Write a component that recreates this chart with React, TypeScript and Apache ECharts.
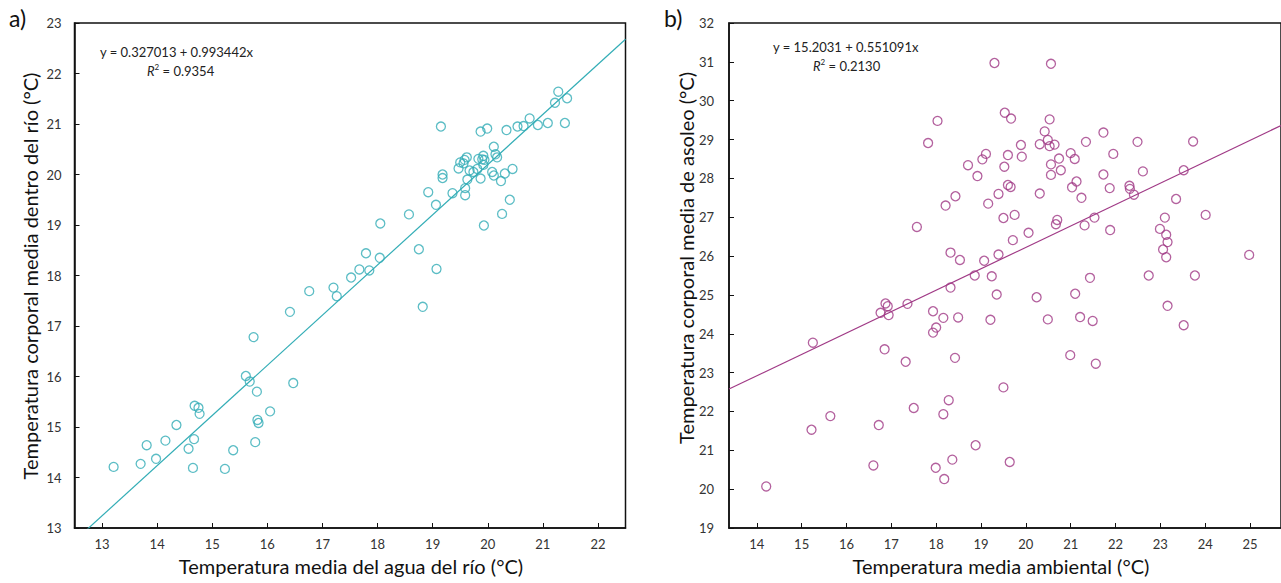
import React, { useEffect, useRef } from "react";
import * as echarts from "echarts";

// ---------- Panel a) : river water vs body temperature in river ----------
const riverX = [
  13.21, 13.7, 13.81, 13.98, 14.15, 14.35, 14.57, 14.65, 14.67, 14.68, 14.75, 14.77, 15.23, 15.38, 15.61, 15.68,
  15.81, 15.78, 15.82, 15.84, 16.05, 16.47, 15.75, 16.41, 16.76, 17.2, 17.26, 17.52, 17.67, 17.79, 17.85, 18.04,
  18.05, 18.57, 18.75, 18.82, 19.07, 18.92, 19.06, 19.15, 19.18, 19.18, 19.36, 19.47, 19.5, 19.56, 19.58, 19.62,
  19.59, 19.59, 19.63, 19.67, 19.74, 19.81, 19.83, 19.87, 19.87, 19.9, 19.92, 19.94, 19.92, 19.99, 19.93, 20.08,
  20.11, 20.11, 20.14, 20.17, 20.24, 20.26, 20.31, 20.34, 20.4, 20.45, 20.54, 20.65, 20.76, 20.91, 21.09, 21.4,
  21.22, 21.28, 21.44,
];
const riverY = [
  14.21, 14.27, 14.64, 14.37, 14.73, 15.04, 14.57, 14.19, 14.76, 15.42, 15.38, 15.26, 14.17, 14.54, 16.01, 15.9,
  15.7, 14.7, 15.14, 15.08, 15.31, 15.87, 16.78, 17.28, 17.69, 17.76, 17.59, 17.96, 18.12, 18.44, 18.1, 18.35,
  19.03, 19.21, 18.52, 17.38, 18.13, 19.65, 19.4, 20.95, 20.0, 19.93, 19.63, 20.12, 20.24, 20.22, 20.29, 20.34,
  19.73, 19.59, 19.9, 20.08, 20.05, 20.11, 20.31, 20.85, 19.92, 20.3, 20.37, 20.29, 20.19, 20.91, 18.99, 20.05,
  20.55, 19.98, 20.4, 20.34, 19.87, 19.22, 20.02, 20.88, 19.5, 20.11, 20.95, 20.96, 21.11, 20.98, 21.02, 21.02,
  21.42, 21.64, 21.51,
];
const riverIntercept = 0.327013;
const riverSlope = 0.993442;
const riverR2 = "0.9354";
const riverXTicks = [13, 14, 15, 16, 17, 18, 19, 20, 21, 22];

// ---------- Panel b) : ambient vs basking body temperature ----------
const ambX = [
  19.3, 18.03, 17.82, 19.11, 19.03, 18.71, 18.92, 19.39, 18.43, 18.21, 19.16, 17.57, 18.32, 18.53, 19.07, 19.39,
  20.56, 19.53, 19.67, 20.53, 20.42, 20.49, 20.31, 20.53, 20.64, 19.89, 19.6, 19.91, 19.52, 20.74, 21.0, 21.09,
  21.34, 21.73, 22.49, 21.95, 23.73, 20.56, 20.78, 20.56, 22.61, 23.52, 21.73, 19.6, 19.66, 20.31, 21.13, 21.03,
  21.24, 21.87, 22.31, 22.32, 22.41, 23.35, 24.01, 19.5, 19.75, 20.7, 20.67, 20.06, 19.71, 21.31, 21.53, 21.88,
  23.1, 22.99, 23.13, 23.16, 23.06, 23.13, 24.98, 18.86, 19.24, 19.35, 18.32, 19.21, 17.36, 16.87, 16.92, 16.76,
  16.94, 15.25, 17.93, 18.16, 18.49, 18.0, 17.93, 16.85, 17.32, 18.42, 17.5, 15.64, 15.22, 16.72, 18.28, 18.16,
  18.88, 16.6, 17.99, 18.36, 18.18, 14.21, 20.24, 20.49, 21.1, 21.43, 21.21, 21.49, 20.99, 21.56, 19.5, 19.64,
  22.74, 23.77, 23.16, 23.52,
];
const ambY = [
  30.97, 29.48, 28.91, 28.63, 28.49, 28.34, 28.06, 27.6, 27.54, 27.3, 27.35, 26.75, 26.09, 25.9, 25.88, 26.04,
  30.95, 29.69, 29.54, 29.52, 29.21, 28.99, 28.88, 28.83, 28.87, 28.86, 28.6, 28.56, 28.3, 28.51, 28.65, 28.5,
  28.94, 29.18, 28.94, 28.63, 28.95, 28.36, 28.21, 28.09, 28.18, 28.21, 28.1, 27.83, 27.78, 27.61, 27.92, 27.77,
  27.5, 27.75, 27.81, 27.73, 27.58, 27.47, 27.06, 26.98, 27.06, 26.93, 26.82, 26.6, 26.41, 26.79, 26.99, 26.67,
  26.99, 26.7, 26.55, 26.36, 26.17, 25.97, 26.03, 25.5, 25.48, 25.01, 25.19, 24.36, 24.77, 24.78, 24.71, 24.54,
  24.48, 23.77, 24.58, 24.41, 24.42, 24.16, 24.03, 23.6, 23.28, 23.38, 22.09, 21.88, 21.53, 21.65, 22.29, 21.93,
  21.13, 20.61, 20.55, 20.76, 20.26, 20.07, 24.94, 24.37, 25.03, 25.44, 24.43, 24.33, 23.45, 23.23, 22.62, 20.7,
  25.5, 25.5, 24.72, 24.22,
];
const ambIntercept = 15.2031;
const ambSlope = 0.551091;
const ambR2 = "0.2130";
const ambXTicks = [14, 15, 16, 17, 18, 19, 20, 21, 22, 23, 24, 25];

const TEAL = "#33adb6";
const PLUM = "#a03a86";
const FONT = "Lato, 'Open Sans', sans-serif";

const zipPts = (xs: number[], ys: number[]) => xs.map((x, i) => [x, ys[i]]);
const fitLine = (a: number, b: number, x0: number, x1: number) => [
  [x0, a + b * x0],
  [x1, a + b * x1],
];

export default function App() {
  const ref = useRef<HTMLDivElement>(null);

  useEffect(() => {
    if (!ref.current) return;
    const chart = echarts.init(ref.current, null, { renderer: "svg" });

    const aXMin = 12.5, aXMax = 22.5, aYMin = 13, aYMax = 23;
    const bXMin = 13.38, bXMax = 25.69, bYMin = 19, bYMax = 32;

    const axisCommon = {
      axisLine: { show: true, lineStyle: { color: "#111", width: 1.5 } },
      axisTick: { show: true, inside: true, length: 5, lineStyle: { color: "#111", width: 1 } },
      splitLine: { show: false },
    };
    const labelStyle = { color: "#333", fontSize: 13, fontFamily: FONT };

    const eqStyle = { fill: "#222", fontSize: 13, fontFamily: FONT };
    const r2Rich = {
      i: { fontStyle: "italic", fontSize: 13, fontFamily: FONT, fill: "#222", color: "#222" },
      s: { fontSize: 8, fontFamily: FONT, fill: "#222", color: "#222", verticalAlign: "top", padding: [0, 0, 8, 0] },
      n: { fontSize: 13, fontFamily: FONT, fill: "#222", color: "#222" },
    };

    chart.setOption({
      animation: false,
      backgroundColor: "#fff",
      grid: [
        { left: 74.5, top: 23, width: 551, height: 505, show: true, borderColor: "#111", borderWidth: 1.5 },
        { left: 729, top: 23, width: 557, height: 505, show: true, borderColor: "#111", borderWidth: 1.5 },
      ],
      xAxis: [
        {
          gridIndex: 0, type: "value", min: aXMin, max: aXMax,
          ...axisCommon,
          axisTick: { ...axisCommon.axisTick, customValues: riverXTicks },
          axisLabel: { ...labelStyle, margin: 9, customValues: riverXTicks },
        },
        {
          gridIndex: 1, type: "value", min: bXMin, max: bXMax,
          ...axisCommon,
          axisTick: { ...axisCommon.axisTick, customValues: ambXTicks },
          axisLabel: { ...labelStyle, margin: 9, customValues: ambXTicks },
        },
      ],
      yAxis: [
        {
          gridIndex: 0, type: "value", min: aYMin, max: aYMax, interval: 1,
          ...axisCommon,
          axisLabel: { ...labelStyle, margin: 13 },
        },
        {
          gridIndex: 1, type: "value", min: bYMin, max: bYMax, interval: 1,
          ...axisCommon,
          axisLabel: { ...labelStyle, margin: 15 },
        },
      ],
      series: [
        {
          type: "scatter", xAxisIndex: 0, yAxisIndex: 0,
          data: zipPts(riverX, riverY),
          symbol: "circle", symbolSize: 9,
          itemStyle: { color: "rgba(255,255,255,0)", borderColor: TEAL, borderWidth: 1.3 },
          z: 3,
        },
        {
          type: "line", xAxisIndex: 0, yAxisIndex: 0,
          data: fitLine(riverIntercept, riverSlope, aXMin, aXMax),
          showSymbol: false, symbol: "none", clip: true,
          lineStyle: { color: TEAL, width: 1.2 },
          z: 2,
        },
        {
          type: "scatter", xAxisIndex: 1, yAxisIndex: 1,
          data: zipPts(ambX, ambY),
          symbol: "circle", symbolSize: 9,
          itemStyle: { color: "rgba(255,255,255,0)", borderColor: PLUM, borderWidth: 1.3 },
          z: 3,
        },
        {
          type: "line", xAxisIndex: 1, yAxisIndex: 1,
          data: fitLine(ambIntercept, ambSlope, bXMin, bXMax),
          showSymbol: false, symbol: "none", clip: true,
          lineStyle: { color: PLUM, width: 1.2 },
          z: 2,
        },
      ],
      graphic: [
        { type: "text", left: 9, top: 6, style: { text: "a)", fontSize: 23, fontFamily: FONT, fill: "#111" } },
        { type: "text", left: 664, top: 6, style: { text: "b)", fontSize: 23, fontFamily: FONT, fill: "#111" } },
        {
          type: "text", x: 30, y: 276, rotation: Math.PI / 2,
          style: {
            text: "Temperatura corporal media dentro del río (°C)", fontSize: 20, fontFamily: FONT, fill: "#111",
            textAlign: "center", textVerticalAlign: "middle",
          },
        },
        {
          type: "text", x: 686, y: 258, rotation: Math.PI / 2,
          style: {
            text: "Temperatura corporal media de asoleo (°C)", fontSize: 20, fontFamily: FONT, fill: "#111",
            textAlign: "center", textVerticalAlign: "middle",
          },
        },
        {
          type: "text", x: 351, y: 566,
          style: {
            text: "Temperatura media del agua del río (°C)", fontSize: 20, fontFamily: FONT, fill: "#111",
            textAlign: "center", textVerticalAlign: "middle",
          },
        },
        {
          type: "text", x: 1001, y: 566,
          style: {
            text: "Temperatura media ambiental (°C)", fontSize: 20, fontFamily: FONT, fill: "#111",
            textAlign: "center", textVerticalAlign: "middle",
          },
        },
        {
          type: "text", x: 100, y: 52,
          style: { ...eqStyle, text: `y = ${riverIntercept} + ${riverSlope}x`, textVerticalAlign: "middle" },
        },
        {
          type: "text", x: 147, y: 71,
          style: { text: `{i|R}{s|2}{n| = ${riverR2}}`, rich: r2Rich, textVerticalAlign: "middle" },
        },
        {
          type: "text", x: 773, y: 47,
          style: { ...eqStyle, text: `y = ${ambIntercept} + ${ambSlope}x`, textVerticalAlign: "middle" },
        },
        {
          type: "text", x: 813, y: 66,
          style: { text: `{i|R}{s|2}{n| = ${ambR2}}`, rich: r2Rich, textVerticalAlign: "middle" },
        },
      ],
    });

    return () => chart.dispose();
  }, []);

  return (
    <div
      ref={ref}
      style={{ position: "fixed", left: 0, top: 0, width: 1281, height: 583, background: "#fff" }}
    />
  );
}
